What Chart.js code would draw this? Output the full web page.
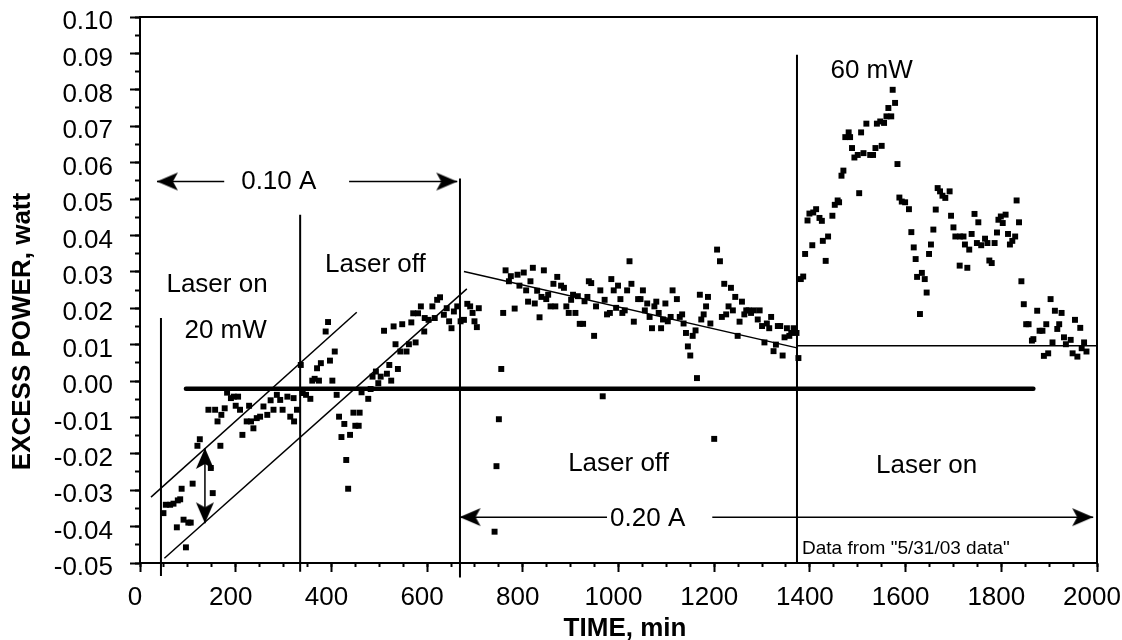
<!DOCTYPE html>
<html>
<head>
<meta charset="utf-8">
<script src="https://cdn.jsdelivr.net/npm/chart.js@4.4.1/dist/chart.umd.min.js"></script>
<style>
  html, body { margin: 0; padding: 0; background: #fff; }
  #grafico { display: block; }
</style>
</head>
<body>
<canvas id="grafico" width="1122" height="640"></canvas>
<script>
const FONTE = '"Liberation Sans", Arial, sans-serif';

// 0.10 A, first laser on / off period
const t010 = [49, 54, 63, 70, 77, 79, 84, 87, 91, 96, 101, 106, 110, 120, 125, 143, 148, 152, 157, 162,
    168, 170, 177, 182, 190, 196, 200, 205, 209, 214, 223, 228, 232, 237, 244, 251, 258, 266, 273, 279,
    286, 293, 298, 308, 314, 321, 322, 328, 336, 340, 347, 356, 360, 365, 370, 374, 378, 388, 393, 397,
    402, 407, 411, 416, 421, 427, 431, 435, 439, 446, 450, 457, 459, 463, 477, 482, 486, 493, 498, 503,
    510, 516, 521, 525, 530, 534, 539, 544, 548, 557, 562, 567, 571, 576, 581, 587, 594, 595, 603, 611,
    616, 621, 627, 635, 641, 646, 651, 656, 663];
const p010 = [-0.0363, -0.0340, -0.0340, -0.0337, -0.0402, -0.0328, -0.0325, -0.0296, -0.0381, -0.0457,
    -0.0389, -0.0389, -0.0282, -0.0178, -0.0160, -0.0079, -0.0239, -0.0308, -0.0079, -0.0111,
    -0.0178, -0.0093, -0.0075, -0.0032, -0.0047, -0.0043, -0.0068, -0.0043, -0.0079, -0.0148,
    -0.0111, -0.0068, -0.0111, -0.0130, -0.0102, -0.0098, -0.0070, -0.0093, -0.0053, -0.0079,
    -0.0038, -0.0052, -0.0079, -0.0043, -0.0098, -0.0047, -0.0111, -0.0079, 0.0044, -0.0033,
    -0.0038, -0.0049, 0.0001, 0.0006, 0.0035, 0.0001, 0.0049, 0.0136, 0.0162, 0.0056,
    0.0001, 0.0081, -0.0038, -0.0098, -0.0154, -0.0118, -0.0217, -0.0296, -0.0148, -0.0087,
    -0.0123, -0.0123, -0.0087, -0.0031, -0.0049, -0.0022, 0.0012, 0.0026, -0.0006, 0.0012,
    0.0138, 0.0020, 0.0044, 0.0001, 0.0150, 0.0101, 0.0033, 0.0081, 0.0156, 0.0081,
    0.0101, 0.0161, 0.0186, 0.0106, 0.0186, 0.0205, 0.0136, 0.0173, 0.0168, 0.0205,
    0.0173, 0.0223, 0.0230, 0.0182, 0.0200, 0.0164, 0.0145, 0.0191, 0.0205];

// 0.20 A, laser off
const t020off = [670, 677, 684, 690, 695, 699, 704, 708, 741, 745, 750, 755, 759, 764, 771, 775, 783, 789, 793, 802,
    807, 811, 816, 821, 825, 830, 835, 839, 844, 849, 853, 858, 864, 868, 872, 880, 886, 891, 896, 901,
    905, 910, 915, 919, 926, 929, 935, 938, 943, 949, 953, 962, 967, 971, 976, 982, 985, 990, 995, 999,
    1004, 1008, 1013, 1018, 1023, 1027, 1032, 1041, 1046, 1051, 1055, 1060, 1065, 1070, 1075, 1079, 1084, 1089, 1093, 1098,
    1103, 1109, 1113, 1122, 1128, 1133, 1136, 1141, 1145, 1150, 1155, 1161, 1164, 1170, 1173, 1178, 1183, 1187, 1192, 1200,
    1206, 1212, 1216, 1221, 1225, 1230, 1235, 1239, 1244, 1249, 1253, 1258, 1263, 1267, 1272, 1277, 1283, 1291, 1295, 1300,
    1305, 1310, 1315, 1319, 1324, 1329, 1333, 1338, 1343, 1347, 1352, 1357, 1361, 1366, 1372, 1376];
const p020off = [0.0164, 0.0168, 0.0212, 0.0205, 0.0187, 0.0164, 0.0148, 0.0200, -0.0414, -0.0234,
    -0.0105, 0.0033, 0.0187, 0.0304, 0.0274, 0.0288, 0.0199, 0.0292, 0.0262, 0.0298,
    0.0249, 0.0218, 0.0274, 0.0311, 0.0213, 0.0248, 0.0175, 0.0231, 0.0304, 0.0225,
    0.0237, 0.0205, 0.0267, 0.0205, 0.0286, 0.0262, 0.0256, 0.0205, 0.0187, 0.0223,
    0.0237, 0.0187, 0.0233, 0.0157, 0.0157, 0.0219, 0.0231, 0.0274, 0.0269, 0.0124,
    0.0205, 0.0249, -0.0042, 0.0223, 0.0183, 0.0187, 0.0280, 0.0249, 0.0201, 0.0262,
    0.0225, 0.0187, 0.0194, 0.0249, 0.0329, 0.0267, 0.0163, 0.0225, 0.0225, 0.0249,
    0.0194, 0.0213, 0.0176, 0.0145, 0.0205, 0.0218, 0.0187, 0.0145, 0.0169, 0.0213,
    0.0164, 0.0176, 0.0249, 0.0225, 0.0176, 0.0183, 0.0158, 0.0132, 0.0095, 0.0070,
    0.0124, 0.0139, 0.0008, 0.0237, 0.0169, 0.0183, 0.0205, 0.0231, 0.0158, -0.0159,
    0.0361, 0.0329, 0.0176, 0.0267, 0.0183, 0.0205, 0.0256, 0.0194, 0.0231, 0.0124,
    0.0163, 0.0218, 0.0183, 0.0194, 0.0194, 0.0187, 0.0194, 0.0169, 0.0194, 0.0151,
    0.0106, 0.0158, 0.0145, 0.0176, 0.0082, 0.0100, 0.0151, 0.0151, 0.0070, 0.0120,
    0.0145, 0.0124, 0.0132, 0.0145, 0.0132, 0.0063];

// 0.20 A, laser on (60 mW)
const t020on = [1381, 1386, 1390, 1395, 1399, 1405, 1407, 1413, 1420, 1425, 1427, 1433, 1438, 1447, 1452, 1458, 1461, 1466, 1470, 1474,
    1481, 1484, 1488, 1493, 1500, 1503, 1507, 1512, 1518, 1526, 1532, 1537, 1540, 1547, 1550, 1555, 1560, 1564, 1570, 1573,
    1578, 1583, 1587, 1592, 1599, 1607, 1612, 1617, 1621, 1624, 1630, 1634, 1640, 1644, 1649, 1653, 1658, 1663, 1667, 1672,
    1677, 1683, 1692, 1695, 1700, 1704, 1713, 1714, 1721, 1724, 1729, 1733, 1738, 1744, 1749, 1752, 1758, 1766, 1771, 1775,
    1780, 1786, 1791, 1794, 1799, 1803, 1809, 1814, 1818, 1823, 1829, 1832, 1837, 1842, 1847, 1852, 1857, 1864, 1867, 1875,
    1880, 1886, 1889, 1894, 1898, 1903, 1907, 1912, 1917, 1921, 1926, 1931, 1935, 1945, 1949, 1954, 1959, 1965, 1968, 1973, 1978];
const p020on = [0.0280, 0.0287, 0.0349, 0.0441, 0.0460, 0.0373, 0.0463, 0.0472, 0.0448, 0.0440,
    0.0385, 0.0330, 0.0397, 0.0454, 0.0484, 0.0496, 0.0491, 0.0564, 0.0578, 0.0670,
    0.0683, 0.0670, 0.0640, 0.0614, 0.0621, 0.0516, 0.0683, 0.0626, 0.0707, 0.0621,
    0.0621, 0.0640, 0.0707, 0.0713, 0.0646, 0.0709, 0.0727, 0.0750, 0.0727, 0.0800,
    0.0764, 0.0596, 0.0504, 0.0493, 0.0491, 0.0472, 0.0409, 0.0367, 0.0335, 0.0286,
    0.0184, 0.0297, 0.0280, 0.0243, 0.0349, 0.0375, 0.0416, 0.0471, 0.0530, 0.0521,
    0.0509, 0.0503, 0.0521, 0.0454, 0.0422, 0.0397, 0.0317, 0.0397, 0.0397, 0.0375,
    0.0311, 0.0361, 0.0404, 0.0459, 0.0379, 0.0436, 0.0373, 0.0391, 0.0379, 0.0331,
    0.0324, 0.0379, 0.0408, 0.0443, 0.0452, 0.0434, 0.0457, 0.0404, 0.0375, 0.0385,
    0.0397, 0.0496, 0.0436, 0.0274, 0.0211, 0.0156, 0.0156, 0.0111, 0.0115, 0.0193,
    0.0138, 0.0138, 0.0069, 0.0156, 0.0076, 0.0225, 0.0106, 0.0193, 0.0143, 0.0156,
    0.0187, 0.0120, 0.0101, 0.0113, 0.0076, 0.0168, 0.0067, 0.0146, 0.0090, 0.0106, 0.0081];

const timeTicks = [0, 200, 400, 600, 800, 1000, 1200, 1400, 1600, 1800, 2000];
const powerTicks = [-0.05, -0.04, -0.03, -0.02, -0.01, 0, 0.01, 0.02, 0.03, 0.04, 0.05, 0.06, 0.07, 0.08, 0.09, 0.10];

// linhas guia: [t0, p0, t1, p1]
const fitUpper = [23, -0.0319, 453, 0.0189];
const fitLower = [51, -0.0487, 683, 0.0253];
const fitOff = [677, 0.0301, 1373, 0.0091];
const levelOn = [1373, 0.0097, 2000, 0.0097];
const baseline = [96, -0.0021, 1867, -0.0021];
const markers = [
    [43.8, 0.0173, 43.8, -0.0536],
    [334.7, 0.0457, 334.7, -0.0524],
    [668.7, 0.0556, 668.7, -0.0540],
    [1373, 0.0896, 1373, -0.0500]
];
const arrows = [
    [176, 0.0548, 35.5, 0.0548],
    [437, 0.0548, 663, 0.0548],
    [976, -0.0374, 668, -0.0374],
    [1196, -0.0374, 1992, -0.0374]
];
const spread = [135.7, -0.0184, 135.7, -0.0391];

const noteText = ['Laser on', '20 mW', 'Laser off', '0.10 A', '60 mW', 'Laser off', '0.20 A', 'Laser on'];
const noteTime = [161, 179, 492, 290, 1529, 1000, 1061, 1644];
const notePower = [0.0265, 0.0137, 0.0318, 0.0548, 0.0853, -0.0228, -0.0378, -0.0233];

function pontos(ts, ps) {
    return ts.map((t, i) => ({ x: t, y: ps[i] }));
}

function criarPonta() {
    const c = document.createElement('canvas');
    c.width = 46;
    c.height = 22;
    const g = c.getContext('2d');
    g.translate(23, 11);
    g.beginPath();
    g.moveTo(0, 0);
    g.lineTo(-21, -9);
    g.lineTo(-16, 0);
    g.lineTo(-21, 9);
    g.closePath();
    g.fillStyle = '#000';
    g.fill();
    return c;
}
const ponta = criarPonta();

function segmento(s, largura) {
    return {
        data: [{ x: s[0], y: s[1] }, { x: s[2], y: s[3] }],
        showLine: true,
        borderColor: '#000',
        borderWidth: largura,
        pointRadius: 0,
        clip: false
    };
}

function seta(s) {
    const ds = segmento(s, 1.5);
    ds.pointRadius = [0, 8];
    ds.pointStyle = ponta;
    ds.pointRotation = [0, s[2] > s[0] ? 0 : 180];
    return ds;
}

function serie(ts, ps) {
    return {
        data: pontos(ts, ps),
        pointStyle: 'rect',
        pointRadius: 4.2,
        pointBorderWidth: 0,
        backgroundColor: '#000',
        borderColor: '#000'
    };
}

const datasets = [
    serie(t010, p010),
    serie(t020off, p020off),
    serie(t020on, p020on),
    segmento(fitUpper, 1.5),
    segmento(fitLower, 1.5),
    segmento(fitOff, 1.5),
    segmento(levelOn, 1.5),
    Object.assign(segmento(baseline, 4.5), { borderCapStyle: 'round' }),
    ...markers.map(m => segmento(m, 2)),
    ...arrows.map(seta),
    Object.assign(segmento(spread, 1.5), {
        pointRadius: [8, 8],
        pointStyle: ponta,
        pointRotation: [-90, 90]
    })
];

const anotacoes = {
    id: 'anotacoes',
    afterDatasetsDraw(chart) {
        const { ctx, chartArea, scales } = chart;
        ctx.save();
        ctx.fillStyle = '#000';
        ctx.textAlign = 'center';
        ctx.textBaseline = 'middle';
        ctx.font = '26px ' + FONTE;
        noteText.forEach((txt, i) => {
            ctx.fillText(txt, scales.x.getPixelForValue(noteTime[i]), scales.y.getPixelForValue(notePower[i]));
        });

        ctx.font = '19px ' + FONTE;
        ctx.textAlign = 'left';
        ctx.fillText('Data from "5/31/03 data"', scales.x.getPixelForValue(1383.5), scales.y.getPixelForValue(-0.0461));

        // moldura
        ctx.strokeStyle = '#000';
        ctx.lineWidth = 2;
        ctx.strokeRect(chartArea.left, chartArea.top, chartArea.right - chartArea.left, chartArea.bottom - chartArea.top);

        // títulos dos eixos
        ctx.font = 'bold 26px ' + FONTE;
        ctx.textAlign = 'center';
        ctx.fillText('TIME, min', 625, 629);
        ctx.translate(22.5, 331.5);
        ctx.rotate(-Math.PI / 2);
        ctx.fillText('EXCESS POWER, watt', 0, 0);
        ctx.restore();
    }
};

const fonteTicks = { family: FONTE, size: 26 };

function semPadding(s) {
    s.paddingLeft = 0;
    s.paddingRight = 0;
    s.paddingTop = 0;
    s.paddingBottom = 0;
}

new Chart(document.getElementById('grafico'), {
    type: 'scatter',
    data: { datasets },
    options: {
        responsive: false,
        animation: false,
        events: [],
        layout: { padding: { top: 17, right: 25, bottom: 0, left: 0 } },
        plugins: { legend: { display: false }, tooltip: { enabled: false } },
        scales: {
            x: {
                type: 'linear',
                position: 'bottom',
                min: 0,
                max: 2000,
                afterBuildTicks: s => { s.ticks = timeTicks.map(v => ({ value: v })); },
                afterFit: s => { s.height = 77; semPadding(s); },
                grid: { drawOnChartArea: false, tickLength: 9, tickWidth: 2, tickColor: '#000' },
                border: { color: '#000', width: 2 },
                ticks: {
                    color: '#000', font: fonteTicks, padding: 10, labelOffset: -5, maxRotation: 0, autoSkip: false,
                    callback: v => String(v)
                }
            },
            y: {
                type: 'linear',
                position: 'left',
                min: -0.05,
                max: 0.10,
                afterBuildTicks: s => { s.ticks = powerTicks.map(v => ({ value: v })); },
                afterFit: s => { s.width = 140; semPadding(s); },
                grid: { drawOnChartArea: false, tickLength: 10, tickWidth: 2, tickColor: '#000' },
                border: { color: '#000', width: 2 },
                ticks: {
                    color: '#000', font: fonteTicks, padding: 17, labelOffset: 5, autoSkip: false,
                    callback: v => (Math.abs(v) < 1e-9 ? 0 : v).toFixed(2)
                }
            },
            xm: {
                type: 'linear',
                axis: 'x',
                position: { y: -0.05 },
                min: 0,
                max: 2000,
                afterFit: s => { s.height = 0; semPadding(s); },
                ticks: { display: false, stepSize: 50 },
                grid: { drawOnChartArea: false, tickLength: 4, tickWidth: 2, tickColor: '#000' },
                border: { display: false }
            },
            ym: {
                type: 'linear',
                axis: 'y',
                position: { x: 0 },
                min: -0.05,
                max: 0.10,
                afterFit: s => { s.width = 0; semPadding(s); },
                ticks: { display: false, stepSize: 0.005 },
                grid: { drawOnChartArea: false, tickLength: 5, tickWidth: 2, tickColor: '#000' },
                border: { display: false }
            }
        }
    },
    plugins: [anotacoes]
});
</script>
</body>
</html>
